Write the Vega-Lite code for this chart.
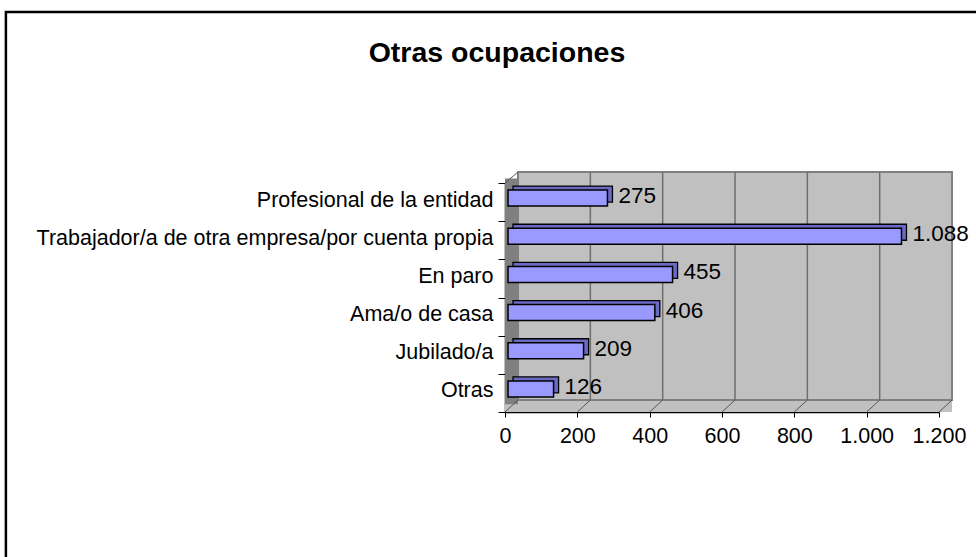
{
  "$schema": "https://vega.github.io/schema/vega-lite/v6.json",
  "width": 434,
  "height": 229,
  "autosize": {"type": "none"},
  "padding": {"left": 505, "top": 183, "right": 37, "bottom": 145},
  "background": "white",
  "config": {
    "view": {"stroke": null},
    "font": "Liberation Sans",
    "locale": {"number": {"decimal": ",", "thousands": ".", "grouping": [3], "currency": ["", " €"]}}
  },
  "title": {
    "text": "Otras ocupaciones",
    "font": "Liberation Sans",
    "fontSize": 28.5,
    "fontWeight": "bold",
    "color": "black",
    "anchor": "middle",
    "frame": "group",
    "baseline": "alphabetic",
    "dx": -225,
    "offset": -80
  },
  "resolve": {"scale": {"y": "independent"}, "axis": {"y": "independent"}},
  "layer": [
    {
      "data": {"values": [{}]},
      "layer": [
        {
          "mark": {"type": "rect", "fill": null, "stroke": "black", "strokeWidth": 2.5},
          "encoding": {
            "x": {"datum": -1380, "type": "quantitative", "scale": {"domain": [0, 1200]}},
            "x2": {"datum": 1400},
            "y": {"datum": -5, "type": "quantitative", "scale": {"domain": [0, 6]}, "axis": null},
            "y2": {"datum": 10.48}
          }
        },
        {
          "mark": {"type": "rect", "fill": "#C0C0C0"},
          "encoding": {
            "x": {"datum": 0, "type": "quantitative", "scale": {"domain": [0, 1200]}},
            "x2": {"datum": 1236},
            "y": {"datum": 0, "type": "quantitative", "scale": {"domain": [0, 6]}, "axis": null},
            "y2": {"datum": 0.314}
          }
        },
        {
          "mark": {"type": "rect", "fill": "#808080"},
          "encoding": {
            "x": {"datum": 0, "type": "quantitative", "scale": {"domain": [0, 1200]}},
            "x2": {"datum": 36},
            "y": {"datum": 0.2, "type": "quantitative", "scale": {"domain": [0, 6]}, "axis": null},
            "y2": {"datum": 6.12}
          }
        },
        {
          "mark": {"type": "rect", "fill": "#C0C0C0", "stroke": "#808080", "strokeWidth": 2},
          "encoding": {
            "x": {"datum": 36, "type": "quantitative", "scale": {"domain": [0, 1200]}},
            "x2": {"datum": 1236},
            "y": {"datum": 0.314, "type": "quantitative", "scale": {"domain": [0, 6]}, "axis": null},
            "y2": {"datum": 6.288}
          }
        },
        {"mark": {"type": "rule", "color": "#6E6E6E", "strokeWidth": 1.5}, "encoding": {"x": {"datum": 236, "type": "quantitative", "scale": {"domain": [0, 1200]}}, "y": {"datum": 0.314, "type": "quantitative", "scale": {"domain": [0, 6]}, "axis": null}, "y2": {"datum": 6.288}}},
        {"mark": {"type": "rule", "color": "#6E6E6E", "strokeWidth": 1.5}, "encoding": {"x": {"datum": 436, "type": "quantitative", "scale": {"domain": [0, 1200]}}, "y": {"datum": 0.314, "type": "quantitative", "scale": {"domain": [0, 6]}, "axis": null}, "y2": {"datum": 6.288}}},
        {"mark": {"type": "rule", "color": "#6E6E6E", "strokeWidth": 1.5}, "encoding": {"x": {"datum": 636, "type": "quantitative", "scale": {"domain": [0, 1200]}}, "y": {"datum": 0.314, "type": "quantitative", "scale": {"domain": [0, 6]}, "axis": null}, "y2": {"datum": 6.288}}},
        {"mark": {"type": "rule", "color": "#6E6E6E", "strokeWidth": 1.5}, "encoding": {"x": {"datum": 836, "type": "quantitative", "scale": {"domain": [0, 1200]}}, "y": {"datum": 0.314, "type": "quantitative", "scale": {"domain": [0, 6]}, "axis": null}, "y2": {"datum": 6.288}}},
        {"mark": {"type": "rule", "color": "#6E6E6E", "strokeWidth": 1.5}, "encoding": {"x": {"datum": 1036, "type": "quantitative", "scale": {"domain": [0, 1200]}}, "y": {"datum": 0.314, "type": "quantitative", "scale": {"domain": [0, 6]}, "axis": null}, "y2": {"datum": 6.288}}},
        {"mark": {"type": "rule", "color": "#555555", "strokeWidth": 1}, "encoding": {"x": {"datum": 0, "type": "quantitative", "scale": {"domain": [0, 1200]}}, "x2": {"datum": 36}, "y": {"datum": 6, "type": "quantitative", "scale": {"domain": [0, 6]}, "axis": null}, "y2": {"datum": 6.288}}},
        {"mark": {"type": "rule", "color": "#555555", "strokeWidth": 1}, "encoding": {"x": {"datum": 0, "type": "quantitative", "scale": {"domain": [0, 1200]}}, "x2": {"datum": 36}, "y": {"datum": 0, "type": "quantitative", "scale": {"domain": [0, 6]}, "axis": null}, "y2": {"datum": 0.314}}},
        {"mark": {"type": "rule", "color": "#555555", "strokeWidth": 1}, "encoding": {"x": {"datum": 200, "type": "quantitative", "scale": {"domain": [0, 1200]}}, "x2": {"datum": 236}, "y": {"datum": 0, "type": "quantitative", "scale": {"domain": [0, 6]}, "axis": null}, "y2": {"datum": 0.314}}},
        {"mark": {"type": "rule", "color": "#555555", "strokeWidth": 1}, "encoding": {"x": {"datum": 400, "type": "quantitative", "scale": {"domain": [0, 1200]}}, "x2": {"datum": 436}, "y": {"datum": 0, "type": "quantitative", "scale": {"domain": [0, 6]}, "axis": null}, "y2": {"datum": 0.314}}},
        {"mark": {"type": "rule", "color": "#555555", "strokeWidth": 1}, "encoding": {"x": {"datum": 600, "type": "quantitative", "scale": {"domain": [0, 1200]}}, "x2": {"datum": 636}, "y": {"datum": 0, "type": "quantitative", "scale": {"domain": [0, 6]}, "axis": null}, "y2": {"datum": 0.314}}},
        {"mark": {"type": "rule", "color": "#555555", "strokeWidth": 1}, "encoding": {"x": {"datum": 800, "type": "quantitative", "scale": {"domain": [0, 1200]}}, "x2": {"datum": 836}, "y": {"datum": 0, "type": "quantitative", "scale": {"domain": [0, 6]}, "axis": null}, "y2": {"datum": 0.314}}},
        {"mark": {"type": "rule", "color": "#555555", "strokeWidth": 1}, "encoding": {"x": {"datum": 1000, "type": "quantitative", "scale": {"domain": [0, 1200]}}, "x2": {"datum": 1036}, "y": {"datum": 0, "type": "quantitative", "scale": {"domain": [0, 6]}, "axis": null}, "y2": {"datum": 0.314}}},
        {"mark": {"type": "rule", "color": "#555555", "strokeWidth": 1}, "encoding": {"x": {"datum": 1200, "type": "quantitative", "scale": {"domain": [0, 1200]}}, "x2": {"datum": 1236}, "y": {"datum": 0, "type": "quantitative", "scale": {"domain": [0, 6]}, "axis": null}, "y2": {"datum": 0.314}}}
      ]
    },
    {
      "data": {
        "values": [
          {"ocupacion": "Profesional de la entidad", "valor": 275},
          {"ocupacion": "Trabajador/a de otra empresa/por cuenta propia", "valor": 1088},
          {"ocupacion": "En paro", "valor": 455},
          {"ocupacion": "Ama/o de casa", "valor": 406},
          {"ocupacion": "Jubilado/a", "valor": 209},
          {"ocupacion": "Otras", "valor": 126}
        ]
      },
      "encoding": {
        "y": {
          "field": "ocupacion",
          "type": "nominal",
          "sort": null,
          "scale": {"paddingInner": 0, "paddingOuter": 0},
          "axis": {
            "title": null,
            "orient": "left",
            "tickBand": "extent",
            "tickSize": 7,
            "tickColor": "black",
            "tickWidth": 1,
            "domainColor": "black",
            "domainWidth": 1.5,
            "labelPadding": 5,
            "labelFont": "Liberation Sans",
            "labelFontSize": 21.5,
            "labelColor": "black",
            "labelLimit": 0,
            "labelBaseline": "middle",
            "labelOffset": -2
          }
        }
      },
      "layer": [
        {
          "mark": {"type": "bar", "size": 16, "fill": "#6A6AC4", "stroke": "black", "strokeWidth": 1.3, "xOffset": 8, "x2Offset": 8, "yOffset": -8, "y2Offset": -8},
          "encoding": {
            "x": {"field": "valor", "type": "quantitative", "scale": {"domain": [0, 1200]}}
          }
        },
        {
          "mark": {"type": "bar", "size": 16, "fill": "#9999FF", "stroke": "black", "strokeWidth": 1.5, "xOffset": 3, "x2Offset": 3, "yOffset": -4, "y2Offset": -4},
          "encoding": {
            "x": {
              "field": "valor",
              "type": "quantitative",
              "scale": {"domain": [0, 1200], "nice": false},
              "axis": {
                "title": null,
                "orient": "bottom",
                "values": [0, 200, 400, 600, 800, 1000, 1200],
                "format": ",d",
                "grid": false,
                "tickSize": 5,
                "tickColor": "black",
                "domainColor": "black",
                "domainWidth": 1.5,
                "labelPadding": 8,
                "labelFont": "Liberation Sans",
                "labelFontSize": 21.5,
                "labelColor": "black",
                "labelFlush": false
              }
            }
          }
        },
        {
          "mark": {"type": "text", "align": "left", "baseline": "middle", "dx": 14, "dy": -6, "font": "Liberation Sans", "fontSize": 22.5, "color": "black"},
          "encoding": {
            "x": {"field": "valor", "type": "quantitative", "scale": {"domain": [0, 1200]}},
            "text": {"field": "valor", "type": "quantitative", "format": ",d"}
          }
        }
      ]
    }
  ]
}
